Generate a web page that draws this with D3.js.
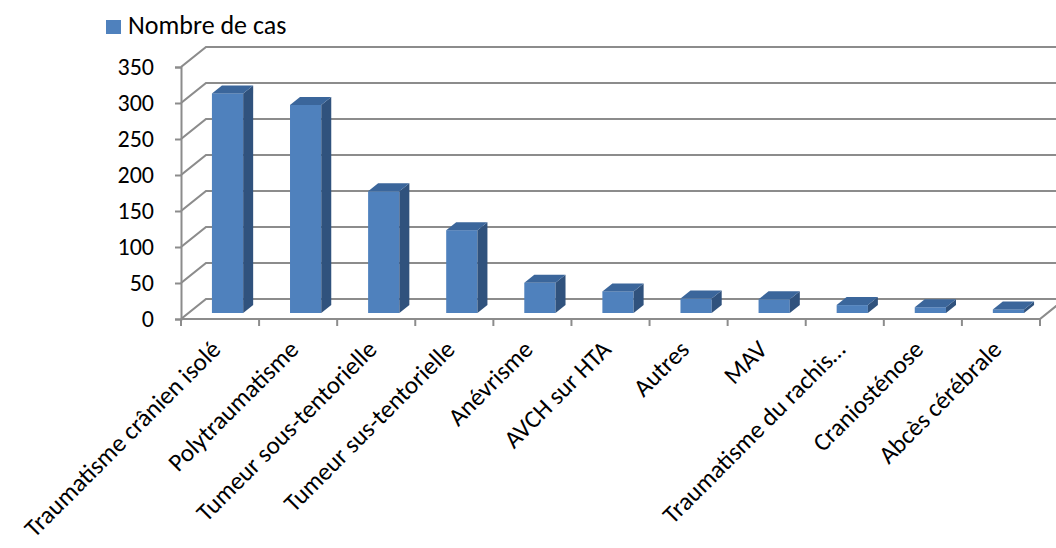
<!DOCTYPE html>
<html>
<head>
<meta charset="utf-8">
<script src="https://cdn.jsdelivr.net/npm/d3@7"></script>
<style>
  body { margin: 0; background: #fff; }
  svg text { font-family: Carlito, Calibri, Lato, sans-serif; fill: #000; }
</style>
</head>
<body>
<svg id="chart" width="1056" height="548"></svg>
<script>
// data
const categories = [
    "Traumatisme crânien isolé",
    "Polytraumatisme",
    "Tumeur sous-tentorielle",
    "Tumeur sus-tentorielle",
    "Anévrisme",
    "AVCH sur HTA",
    "Autres",
    "MAV",
    "Traumatisme du rachis…",
    "Craniosténose",
    "Abcès cérébrale"
];
const values = [305, 289, 169, 115, 42, 30, 20, 19, 11, 8, 5];
const yTicks = [0, 50, 100, 150, 200, 250, 300, 350];
const seriesName = "Nombre de cas";

const svg = d3.select("#chart");

// 3d room: front plane + depth offset to back wall
const depthX = 25, depthY = -20;
const barFront = 0.3, barBack = 0.7, barWidth = 0.4;

const x = d3.scaleBand().domain(categories).range([181, 1040]);
const y = d3.scaleLinear().domain([0, 350]).range([319, 67]);

const gridColor = "#8c8c8c";

// gridlines: side wall diagonal + back wall horizontal
svg.append("g")
    .selectAll("path")
    .data(yTicks)
    .join("path")
    .attr("fill", "none")
    .attr("stroke", gridColor)
    .attr("stroke-width", 2.2)
    .attr("d", d => "M" + x.range()[0] + "," + y(d) +
        "L" + (x.range()[0] + depthX) + "," + (y(d) + depthY) +
        "L" + (x.range()[1] + depthX + 10) + "," + (y(d) + depthY));

// floor front edge + right edge
svg.append("path")
    .attr("fill", "none")
    .attr("stroke", gridColor)
    .attr("stroke-width", 2.2)
    .attr("d", "M" + x.range()[0] + "," + y(0) +
        "L" + x.range()[1] + "," + y(0) +
        "L" + (x.range()[1] + depthX) + "," + (y(0) + depthY));

// category tick marks at band edges
const edges = categories.map(c => x(c)).concat([x.range()[1]]);
svg.append("g")
    .selectAll("line")
    .data(edges)
    .join("line")
    .attr("x1", d => d).attr("x2", d => d)
    .attr("y1", y(0)).attr("y2", y(0) + 7)
    .attr("stroke", gridColor)
    .attr("stroke-width", 2);

// y axis
const yAxis = svg.append("g")
    .attr("transform", "translate(" + x.range()[0] + ",0)")
    .call(d3.axisLeft(y).tickValues(yTicks).tickSize(6).tickPadding(21));
yAxis.select(".domain").attr("stroke", gridColor).attr("stroke-width", 2);
yAxis.selectAll(".tick line").attr("stroke", gridColor).attr("stroke-width", 2);
yAxis.selectAll(".tick text")
    .style("font-family", "Carlito, Calibri, Lato, sans-serif")
    .style("font-size", "24px")
    .attr("fill", "#000");

// bars as front / side / top faces
const bars = svg.append("g")
    .selectAll("g")
    .data(categories.map((c, i) => ({cat: c, value: values[i]})))
    .join("g");

function face(d) {
    const bw = x.bandwidth();
    const cx = x(d.cat) + bw / 2 + depthX * barFront;
    const x0 = cx - bw * barWidth / 2;
    const x1 = cx + bw * barWidth / 2;
    const base = y(0) + depthY * barFront;
    const top = base - (y(0) - y(d.value));
    const dx = depthX * (barBack - barFront), dy = depthY * (barBack - barFront);
    return {x0, x1, base, top, dx, dy};
}

bars.append("rect")
    .attr("x", d => face(d).x0)
    .attr("y", d => face(d).top)
    .attr("width", d => face(d).x1 - face(d).x0)
    .attr("height", d => face(d).base - face(d).top)
    .attr("fill", "#4f81bd");

bars.append("path")
    .attr("fill", "#30527d")
    .attr("d", d => {
        const f = face(d);
        return "M" + f.x1 + "," + f.base + "L" + f.x1 + "," + f.top +
            "L" + (f.x1 + f.dx) + "," + (f.top + f.dy) +
            "L" + (f.x1 + f.dx) + "," + (f.base + f.dy) + "Z";
    });

bars.append("path")
    .attr("fill", "#3b669b")
    .attr("d", d => {
        const f = face(d);
        return "M" + f.x0 + "," + f.top + "L" + f.x1 + "," + f.top +
            "L" + (f.x1 + f.dx) + "," + (f.top + f.dy) +
            "L" + (f.x0 + f.dx) + "," + (f.top + f.dy) + "Z";
    });

// category labels, rotated
svg.append("g")
    .selectAll("text")
    .data(categories)
    .join("text")
    .attr("transform", d => "translate(" + (x(d) + x.bandwidth() / 2 + 2) + "," + 351 + ") rotate(-45)")
    .attr("text-anchor", "end")
    .style("font-size", "25px")
    .text(d => d);

// legend
const legend = svg.append("g").attr("transform", "translate(106,20)");
legend.append("rect")
    .attr("width", 15).attr("height", 14)
    .attr("fill", "#4f81bd");
legend.append("text")
    .attr("x", 22).attr("y", 14)
    .style("font-size", "26px")
    .text(seriesName);
</script>
</body>
</html>
